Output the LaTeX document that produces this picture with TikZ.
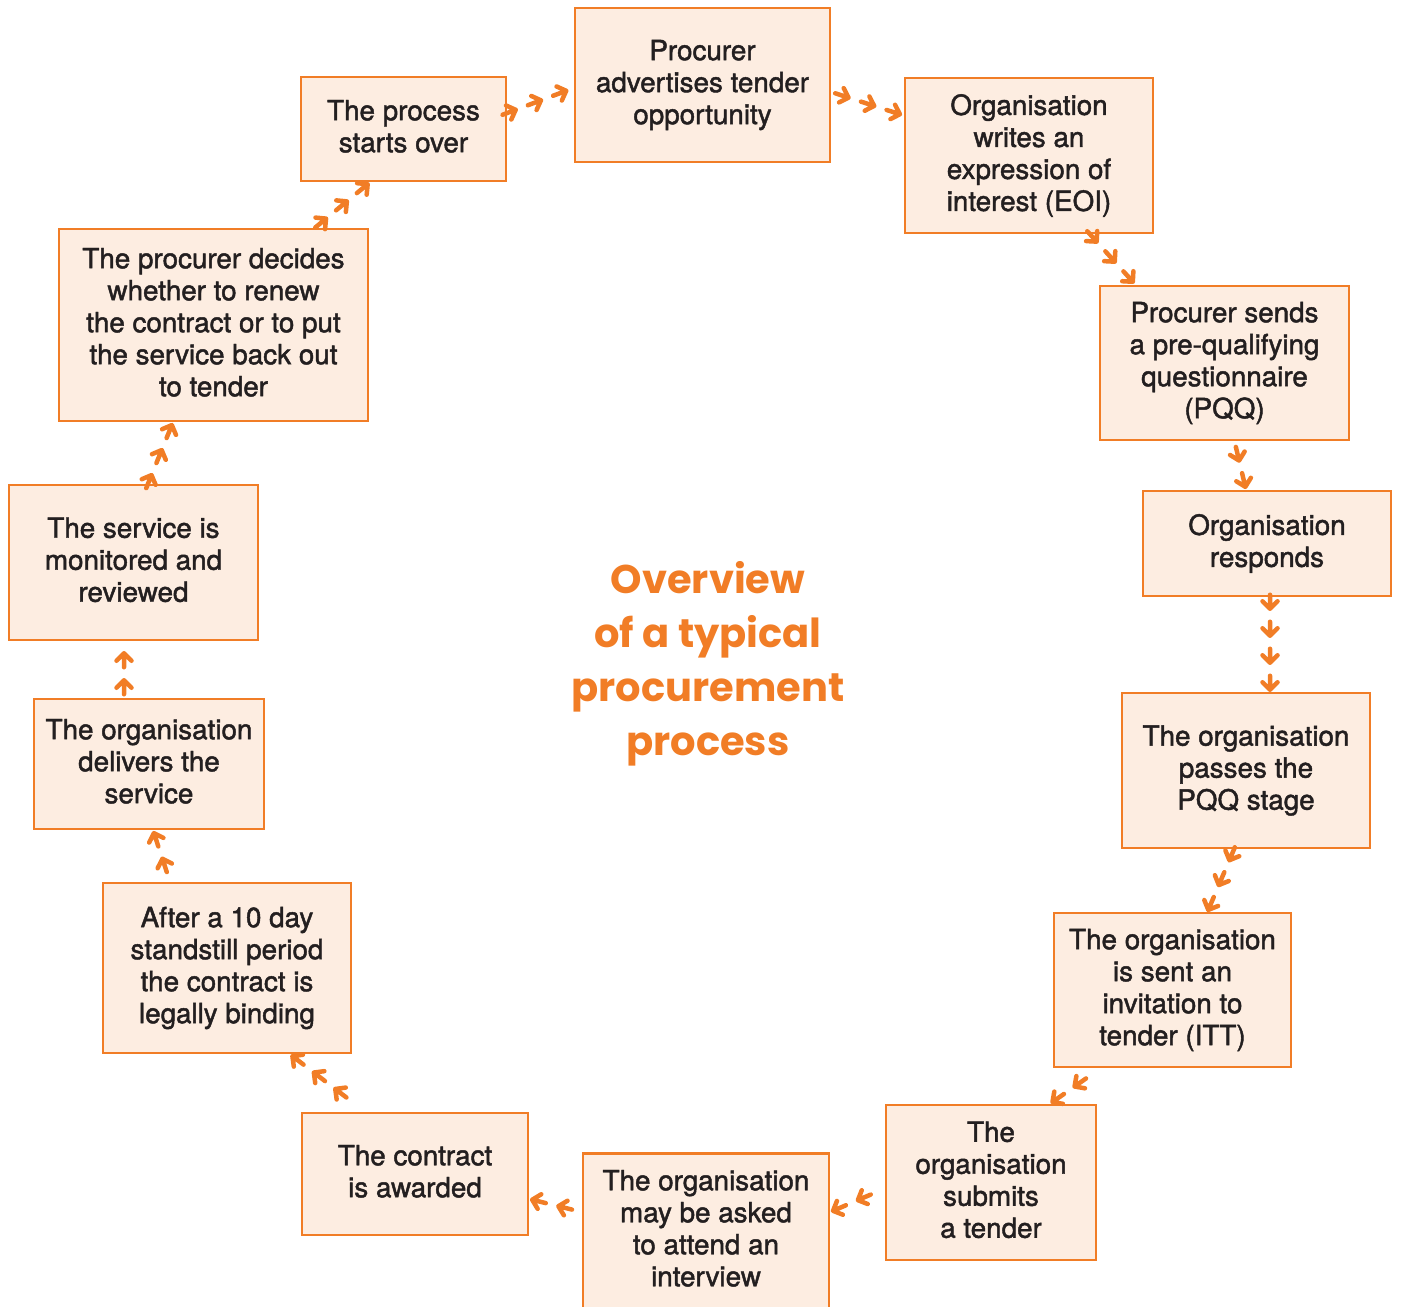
\documentclass[tikz,border=0pt]{standalone}
\usepackage{fontspec}
\setmainfont{TeX Gyre Heros}
\newfontfamily\bodyfont{TeX Gyre Heros}[FakeBold=1.6]
\newfontfamily\titlefont{Poppins}
\usetikzlibrary{calc,decorations.markings}
\definecolor{orng}{RGB}{241,125,38}
\definecolor{peach}{RGB}{253,237,225}
\definecolor{ink}{RGB}{35,31,32}
\tikzset{
 stepbox/.style={draw=orng, fill=peach, line width=2.5pt, inner sep=0pt, align=center, text=ink, font=\bodyfont\fontsize{27.8}{32}\selectfont, execute at end node={\rule[-5.8pt]{0pt}{0pt}}},
 chev/.style={draw=orng, line width=4.5pt, line cap=round, line join=round},
 chain/.style 2 args={decorate, decoration={markings, mark=at position 0.9999 with {\foreach \k in {1,...,#1}{\pgfmathsetmacro\o{#2+(\k-1)*27}\draw[chev] (-\o-14,0)--(-\o,0) (-\o-7.5,7.5)--(-\o,0)--(-\o-7.5,-7.5);}}}}
}
\begin{document}
\begin{tikzpicture}[x=1pt,y=-1pt]
\useasboundingbox (0,0) rectangle (1402,1306);
\clip (0,0) rectangle (1402,1306);
\node[stepbox, minimum width=255pt, minimum height=154pt] (n1) at (702.5,85) {Procurer\\advertises tender\\opportunity};
\node[stepbox, minimum width=248pt, minimum height=155pt] (n2) at (1029,155.5) {Organisation\\writes an\\expression of\\interest (EOI)};
\node[stepbox, minimum width=249pt, minimum height=154pt] (n3) at (1224.5,363) {Procurer sends\\a pre-qualifying\\questionnaire\\(PQQ)};
\node[stepbox, minimum width=248pt, minimum height=105pt] (n4) at (1267,543.5) {Organisation\\responds};
\node[stepbox, minimum width=248pt, minimum height=155pt] (n5) at (1246,770.5) {The organisation\\passes the\\PQQ stage};
\node[stepbox, minimum width=237pt, minimum height=154pt] (n6) at (1172.5,990) {The organisation\\is sent an\\invitation to\\tender (ITT)};
\node[stepbox, minimum width=210pt, minimum height=155pt] (n7) at (991,1182.5) {The\\organisation\\submits\\a tender};
\node[stepbox, minimum width=246pt, minimum height=155pt] (n8) at (706,1231) {The organisation\\may be asked\\to attend an\\interview};
\node[stepbox, minimum width=226pt, minimum height=122pt] (n9) at (415,1174) {The contract\\is awarded};
\node[stepbox, minimum width=248pt, minimum height=170pt] (n10) at (227,968) {After a 10 day\\standstill period\\the contract is\\legally binding};
\node[stepbox, minimum width=230pt, minimum height=130pt] (n11) at (149,764) {The organisation\\delivers the\\service};
\node[stepbox, minimum width=249pt, minimum height=155pt] (n12) at (133.5,562.5) {The service is\\monitored and\\reviewed};
\node[stepbox, minimum width=309pt, minimum height=192pt] (n13) at (213.5,325) {The procurer decides\\whether to renew\\the contract or to put\\the service back out\\to tender};
\node[stepbox, minimum width=205pt, minimum height=104pt] (n14) at (403.5,129) {The process\\starts over};
\node[text=orng, font=\titlefont\bfseries\fontsize{40}{54}\selectfont, align=center] (title) at (708,664) {Overview\\of a typical\\procurement\\process};
\path[chain={3}{8}] ($(n14.east)+(0,-16)$) -- ($(n1.west)+(0,3)$);
\path[chain={3}{4}] ($(n1.east)+(0,7)$) -- ($(n2.west)+(0,-40)$);
\path[chain={3}{4}] ($(n2.south)+(61,0)$) -- ($(n3.north)+(-89,0)$);
\path[chain={2}{3}] ($(n3.south)+(10,0)$) -- ($(n4.north)+(-21,0)$);
\path[chain={4}{2}] ($(n4.south)+(3,0)$) -- ($(n5.north)+(24,0)$);
\path[chain={3}{2}] ($(n5.south)+(-12,0)$) -- ($(n6.north)+(35,0)$);
\path[chain={2}{3}] ($(n6.south)+(-72,0)$) -- ($(n7.north)+(59,0)$);
\path[chain={2}{3}] ($(n7.west)+(0,6)$) -- ($(n8.east)+(0,-19)$);
\path[chain={2}{3}] ($(n8.west)+(0,-19)$) -- ($(n9.east)+(0,25)$);
\path[chain={3}{3}] ($(n9.north)+(-50,0)$) -- ($(n10.south)+(63,0)$);
\path[chain={2}{3}] ($(n10.north)+(-57,0)$) -- ($(n11.south)+(4,0)$);
\path[chain={2}{12}] ($(n11.north)+(-25,0)$) -- ($(n12.south)+(-9.5,0)$);
\path[chain={3}{3}] ($(n12.north)+(14.5,0)$) -- ($(n13.south)+(-40.5,0)$);
\path[chain={3}{3}] ($(n13.north)+(101.5,0)$) -- ($(n14.south)+(-33.5,0)$);
\end{tikzpicture}
\end{document}
